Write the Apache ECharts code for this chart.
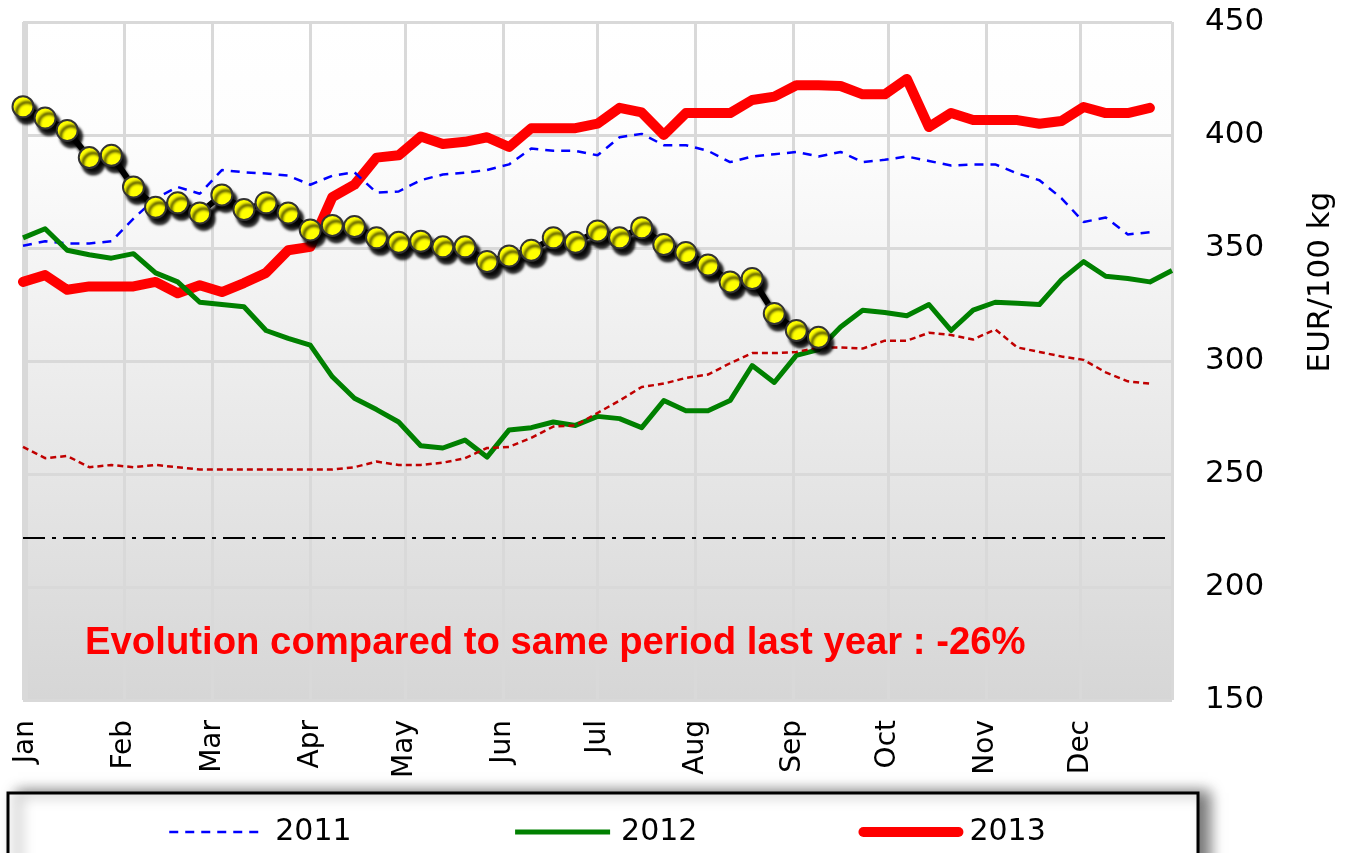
<!DOCTYPE html>
<html>
<head>
<meta charset="utf-8">
<script src="https://cdn.jsdelivr.net/npm/echarts@6.0.0/dist/echarts.min.js"></script>
<style>
    html, body { margin: 0; padding: 0; background: #fff; }
    #chart { width: 1345px; height: 853px; }
</style>
</head>
<body>
<div id="chart"></div>
<script>
    // week numbers of the year (x), monthly tick labels
    const weeks = [1, 2, 3, 4, 5, 6, 7, 8, 9, 10, 11, 12, 13, 14, 15, 16, 17, 18, 19, 20, 21, 22, 23, 24, 25, 26,
        27, 28, 29, 30, 31, 32, 33, 34, 35, 36, 37, 38, 39, 40, 41, 42, 43, 44, 45, 46, 47, 48, 49, 50, 51, 52, 53];
    const monthLabels = ['Jan', 'Feb', 'Mar', 'Apr', 'May', 'Jun', 'Jul', 'Aug', 'Sep', 'Oct', 'Nov', 'Dec'];

    // EUR/100 kg, one value per week
    const y2011 = [351, 353, 352, 352, 353, 363, 372, 377, 374, 384.5, 383.5, 383, 382, 378, 382, 383.5, 374.5, 375,
        380, 382.5, 383.3, 384.5, 387, 394, 393, 393, 391, 399, 400.5, 395.5, 395.5, 393, 388, 390.5, 391.5, 392.5,
        390.5, 392.5, 388, 389, 390.5, 388.5, 386.5, 387, 387, 383, 380, 372, 361.5, 363.5, 356, 357];
    const y2012 = [354.5, 358.5, 349, 347, 345.5, 347.5, 339, 335, 326, 325, 324, 313.5, 310, 307, 293, 283.5, 278.5,
        273, 262.5, 261.5, 265, 257.5, 269.5, 270.5, 273, 271.5, 275.5, 274.5, 270.5, 282.5, 278, 278, 282.5, 298,
        290.5, 302.5, 305, 315, 322.5, 321.5, 320, 325, 313.5, 322.5, 326, 325.5, 325, 336, 344, 337.5, 336.5, 335, 340];
    const y2013 = [335, 338, 331.5, 333, 333, 333, 335, 330, 333.5, 330.5, 334.5, 339, 349, 350.5, 372.5, 378, 390,
        391, 399.3, 396, 397, 399, 394.7, 403, 403, 403, 405, 412, 410, 400, 409.7, 409.7, 409.7, 415.5, 417, 422,
        422, 421.7, 418, 418, 424.8, 403.5, 409.7, 406.6, 406.6, 406.6, 405, 406.2, 412.4, 409.7, 409.7, 412];
    const yAverage = [262, 257, 258, 253, 254, 253, 254, 253, 252, 252, 252, 252, 252, 252, 252, 253, 255.5, 254,
        254, 255, 257, 261.5, 262, 266, 271, 271.5, 277, 282.5, 288.5, 290, 292.5, 294, 299, 303.5, 303.5, 304, 306,
        306, 305.5, 309, 309, 312.5, 311.5, 309.5, 314, 306, 304, 302, 300.5, 295, 291, 290];
    const y2014 = [412.5, 407.5, 402, 390, 391, 377, 368, 370, 365.5, 373.5, 367, 370, 365.5, 358, 360, 359.5, 354.5,
        352.5, 353, 350.5, 350.5, 344, 346.5, 349, 354.5, 352.5, 357.5, 354.5, 359, 351.5, 348, 342.5, 335, 336.5,
        321, 313.5, 310.5];

    const threshold = 222;
    const note = 'Evolution compared to same period last year : -26%';

    // first weekly point sits just before 1 January
    const DAY = 24 * 3600 * 1000;
    const weekStart = Date.UTC(2013, 11, 31);
    function toPoints(values) {
        return values.map((v, i) => [weekStart + (weeks[i] - 1) * 7 * DAY, v]);
    }

    const chart = echarts.init(document.getElementById('chart'));
    const option = {
        useUTC: true,
        animation: false,
        textStyle: { fontFamily: 'DejaVu Sans' },
        grid: {
            left: 23,
            right: 173,
            top: 22,
            bottom: 153,
            show: true,
            borderWidth: 0,
            backgroundColor: new echarts.graphic.LinearGradient(0, 0, 0, 1, [
                { offset: 0, color: '#ffffff' },
                { offset: 0.17, color: '#fdfdfd' },
                { offset: 1, color: '#d6d6d6' }
            ])
        },
        title: {
            text: note,
            left: 80,
            top: 619,
            textStyle: {
                color: '#ff0000',
                fontFamily: 'Liberation Sans',
                fontWeight: 'bold',
                fontSize: 38.3
            }
        },
        legend: {
            data: [
                { name: '2011', lineStyle: { width: 2.5, type: [9, 7] } },
                { name: '2012', lineStyle: { width: 5 } },
                { name: '2013', lineStyle: { width: 10, cap: 'round' } }
            ],
            left: 163,
            top: 812,
            itemWidth: 95,
            itemHeight: 14,
            itemGap: 161,
            itemStyle: { opacity: 0 },
            textStyle: { fontSize: 30, color: '#000', fontFamily: 'DejaVu Sans', padding: [0, 0, 0, 6] }
        },
        graphic: [{
            type: 'rect',
            z: 0,
            silent: true,
            shape: { x: 8, y: 793, width: 1190, height: 120 },
            style: {
                fill: '#fff',
                stroke: '#000',
                lineWidth: 3,
                shadowBlur: 14,
                shadowColor: 'rgba(0,0,0,0.55)',
                shadowOffsetX: 10
            }
        }],
        xAxis: {
            type: 'time',
            min: weekStart,
            max: weekStart + 364 * DAY,
            splitNumber: 12,
            axisLine: { show: false },
            axisTick: { show: false },
            axisLabel: {
                rotate: 90,
                margin: 20,
                fontSize: 28,
                color: '#000',
                hideOverlap: false,
                showMinLabel: false,
                showMaxLabel: false,
                formatter: (v) => monthLabels[new Date(v).getUTCMonth()]
            },
            splitLine: { show: true, lineStyle: { color: '#d9d9d9', width: 3 } }
        },
        yAxis: {
            type: 'value',
            position: 'right',
            min: 150,
            max: 450,
            interval: 50,
            axisLine: { show: false },
            axisTick: { show: false },
            axisLabel: { margin: 33, fontSize: 31, color: '#000' },
            splitLine: { lineStyle: { color: '#d9d9d9', width: 3 } },
            name: 'EUR/100 kg',
            nameLocation: 'middle',
            nameRotate: 90,
            nameGap: 133,
            nameTextStyle: { fontSize: 31, color: '#000', padding: [0, 0, 0, 158] }
        },
        series: [
            {
                name: '2013',
                type: 'line',
                symbol: 'none',
                data: toPoints(y2013),
                lineStyle: { color: '#ff0000', width: 10, cap: 'round', join: 'round' },
                itemStyle: { color: '#ff0000' }
            },
            {
                name: '2011',
                type: 'line',
                symbol: 'none',
                data: toPoints(y2011),
                lineStyle: { color: '#0000ff', width: 2.5, type: [9, 7] },
                itemStyle: { color: '#0000ff' }
            },
            {
                name: '2012',
                type: 'line',
                symbol: 'none',
                data: toPoints(y2012),
                lineStyle: { color: '#008000', width: 5, join: 'round' },
                itemStyle: { color: '#008000' },
                markLine: {
                    silent: true,
                    symbol: 'none',
                    label: { show: false },
                    lineStyle: { color: '#000', width: 2, type: [22, 7, 4, 7] },
                    data: [{ yAxis: threshold }]
                }
            },
            {
                name: 'Average',
                type: 'line',
                symbol: 'none',
                data: toPoints(yAverage),
                lineStyle: { color: '#c00000', width: 2.5, type: [6, 4] },
                itemStyle: { color: '#c00000' }
            },
            {
                name: '2014',
                type: 'line',
                symbol: 'circle',
                symbolSize: 21,
                data: toPoints(y2014),
                lineStyle: {
                    color: '#000',
                    width: 6,
                    shadowColor: 'rgba(0,0,0,0.9)',
                    shadowBlur: 3,
                    shadowOffsetX: 4,
                    shadowOffsetY: 6
                },
                itemStyle: {
                    color: '#ffff00',
                    borderColor: '#333',
                    borderWidth: 2,
                    shadowColor: 'rgba(0,0,0,0.95)',
                    shadowBlur: 3,
                    shadowOffsetX: 4,
                    shadowOffsetY: 6
                }
            }
        ]
    };
    chart.setOption(option);

    window.addEventListener('resize', () => chart.resize());
</script>
</body>
</html>
